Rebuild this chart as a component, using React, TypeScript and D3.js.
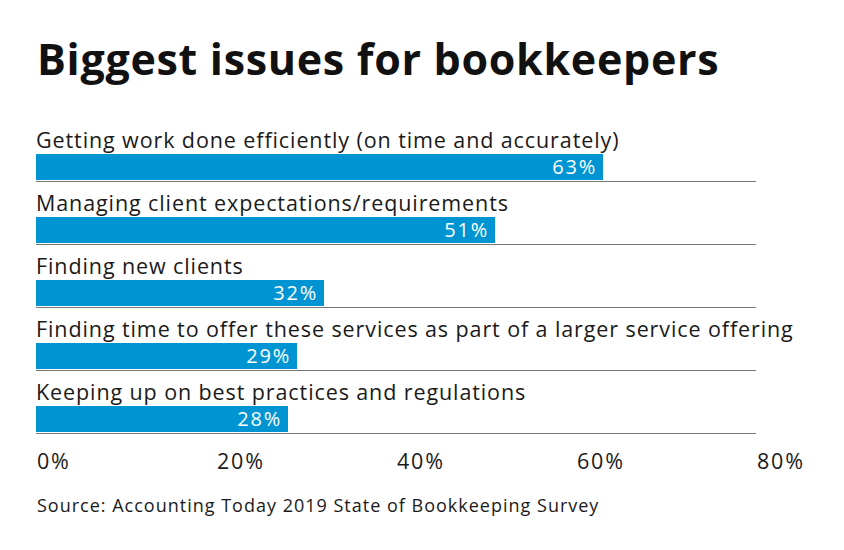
import { useRef, useEffect } from 'react';
import * as d3 from 'd3';

const TITLE = 'Biggest issues for bookkeepers';
const SOURCE = 'Source: Accounting Today 2019 State of Bookkeeping Survey';

const categories = [
  'Getting work done efficiently (on time and accurately)',
  'Managing client expectations/requirements',
  'Finding new clients',
  'Finding time to offer these services as part of a larger service offering',
  'Keeping up on best practices and regulations',
];
const values = [63, 51, 32, 29, 28];
const ticks = [0, 20, 40, 60, 80];

const BLUE = '#0095d2';
const FONT = '"Open Sans", sans-serif';

export default function App() {
  const svgRef = useRef<SVGSVGElement>(null);
  const width = 844;
  const height = 550;

  useEffect(() => {
    const svg = d3.select(svgRef.current);
    svg.selectAll('*').remove();

    const x = d3.scaleLinear().domain([0, 80]).range([36, 756]);
    const y = d3.scaleBand().domain(categories).range([118, 433]).paddingInner(0).paddingOuter(0);
    const step = y.step();
    const data = categories.map((c, i) => ({ label: c, value: values[i] }));

    svg.append('rect').attr('width', width).attr('height', height).attr('fill', '#fff');

    // title
    svg.append('text')
      .attr('x', 37)
      .attr('y', 75)
      .attr('font-family', FONT)
      .attr('font-weight', 700)
      .attr('font-size', 43)
      .attr('letter-spacing', 0.7)
      .attr('fill', '#111')
      .text(TITLE);

    const rows = svg.selectAll('.row')
      .data(data)
      .join('g')
      .attr('class', 'row')
      .attr('transform', d => `translate(0,${y(d.label)})`);

    rows.append('text')
      .attr('x', 36)
      .attr('y', 30)
      .attr('font-family', FONT)
      .attr('font-size', 21.5)
      .attr('letter-spacing', 0.9)
      .attr('fill', '#1a1a1a')
      .text(d => d.label);

    rows.append('rect')
      .attr('x', x(0))
      .attr('y', step - 27)
      .attr('width', d => x(d.value) - x(0))
      .attr('height', 26)
      .attr('fill', BLUE);

    rows.append('line')
      .attr('x1', x(0))
      .attr('x2', x(80))
      .attr('y1', step + 0.5)
      .attr('y2', step + 0.5)
      .attr('stroke', '#777')
      .attr('stroke-width', 1.2);

    // value labels inside bar ends
    rows.append('text')
      .attr('x', d => x(d.value) - 6)
      .attr('y', step - 7)
      .attr('text-anchor', 'end')
      .attr('font-family', FONT)
      .attr('font-size', 20)
      .attr('letter-spacing', 1.8)
      .attr('fill', '#fff')
      .text(d => `${d.value}%`);

    // axis tick labels
    svg.selectAll('.tick-label')
      .data(ticks)
      .join('text')
      .attr('class', 'tick-label')
      .attr('x', d => x(d) + 1)
      .attr('y', 469)
      .attr('font-family', FONT)
      .attr('font-size', 21.5)
      .attr('letter-spacing', 1.8)
      .attr('fill', '#1a1a1a')
      .text(d => `${d}%`);

    svg.append('text')
      .attr('x', 37)
      .attr('y', 512)
      .attr('font-family', FONT)
      .attr('font-size', 18)
      .attr('letter-spacing', 1)
      .attr('fill', '#1a1a1a')
      .text(SOURCE);
  }, []);

  return (
    <svg
      ref={svgRef}
      width={width}
      height={height}
      style={{ position: 'absolute', left: 0, top: 0 }}
    />
  );
}
